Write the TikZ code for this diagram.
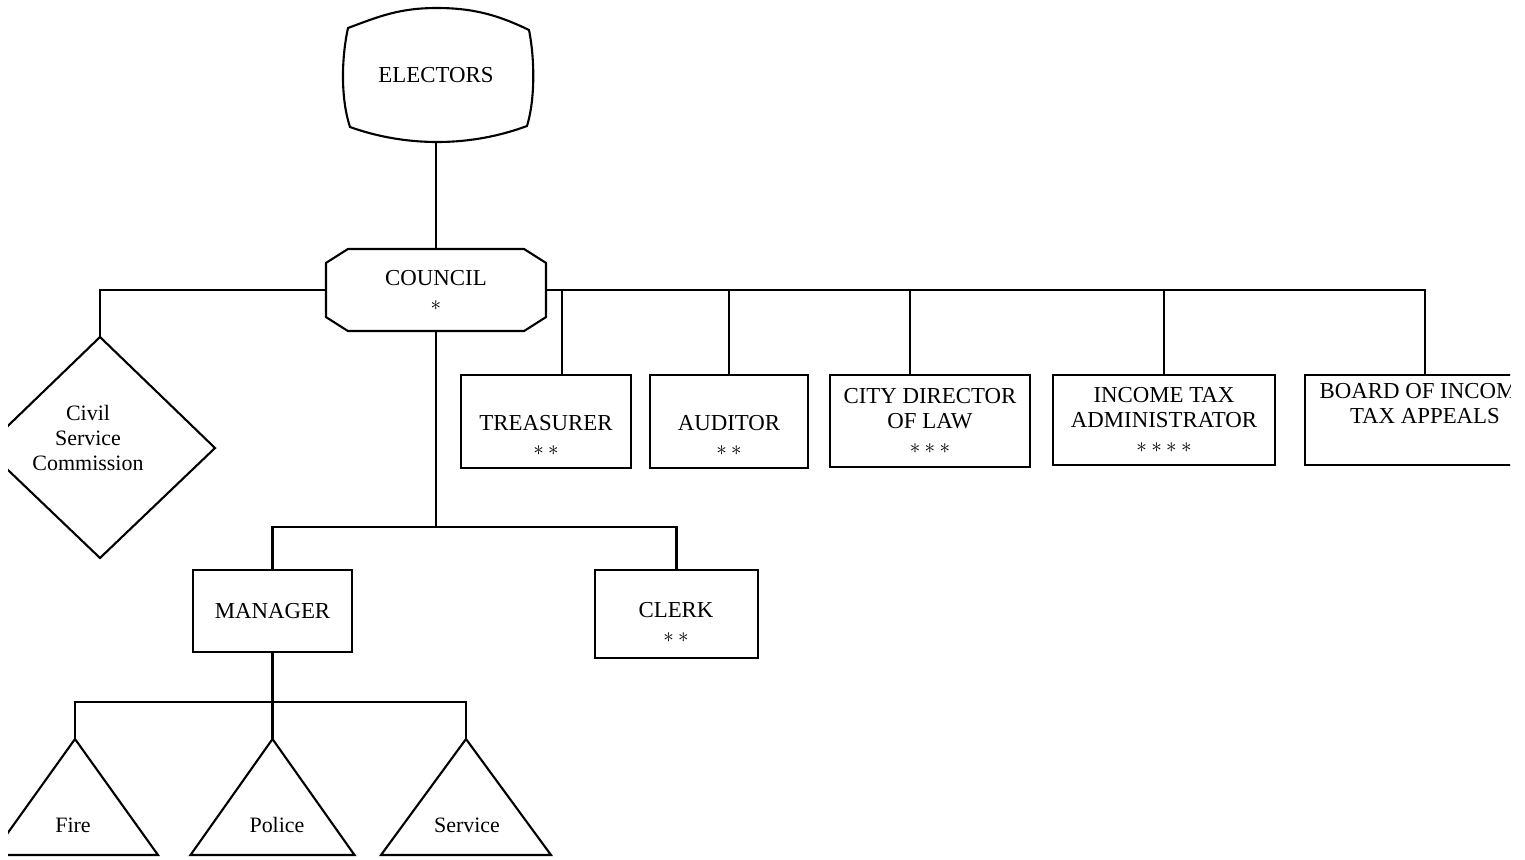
\documentclass[tikz,border=0pt]{standalone}
\usepackage{fontspec}
\setmainfont{Liberation Serif}
\usetikzlibrary{calc}
\newcommand{\sast}{$\ast$}
\newcommand{\astgap}{\hspace{2.5pt}}
\begin{document}
\begin{tikzpicture}[x=0.02cm, y=-0.02cm, line width=1.2pt,
  txt/.style={font=\fontsize{13}{14.3}\selectfont, align=center, inner sep=0pt},
  office/.style={draw, rectangle, txt, minimum height=1.86cm},
  small/.style={font=\fontsize{12.5}{14.5}\selectfont, align=center, inner sep=0pt}]
\useasboundingbox (0,0) rectangle (1525,859);
\begin{scope}
\clip (8,0) rectangle (1510,859);

% electors
\node[txt, minimum width=3.76cm, minimum height=2.68cm] (electors) at (436,75) {ELECTORS};
\draw (348,28) .. controls (380,16) and (400,8) .. (437,8)
      .. controls (475,8) and (500,16) .. (529,30)
      .. controls (535,60) and (535,100) .. (527,126)
      .. controls (500,136) and (470,142) .. (437,142)
      .. controls (405,142) and (375,136) .. (350,127)
      .. controls (341,100) and (341,60) .. (348,28) -- cycle;

% council (octagon)
\node[txt, minimum width=4.36cm, minimum height=1.6cm] (council) at (436,290) {COUNCIL\\\sast};
\draw ($(council.north west)+(22,0)$) -- ($(council.north east)+(-22,0)$)
   -- ($(council.north east)+(0,14)$) -- ($(council.south east)+(0,-14)$)
   -- ($(council.south east)+(-22,0)$) -- ($(council.south west)+(22,0)$)
   -- ($(council.south west)+(0,-14)$) -- ($(council.north west)+(0,14)$) -- cycle;
\draw (electors.south) -- (council.north);

% civil service commission (diamond)
\coordinate (cscTop) at (100,337);
\draw (cscTop) -- (215,448) -- (100,558) -- (-15,448) -- cycle;
\node[small] (csc) at (88,438) {Civil\\Service\\Commission};
\draw (council.west) -| (cscTop);

% offices on the right
\node[office, minimum width=3.4cm] (treasurer) at (546,421.5) {\strut\\TREASURER\\\sast\astgap\sast};
\node[office, minimum width=3.16cm] (auditor) at (729,421.5) {\strut\\AUDITOR\\\sast\astgap\sast};
\node[office, minimum width=4cm, minimum height=1.84cm] (law) at (930,421) {CITY DIRECTOR\\OF LAW\\\sast\astgap\sast\astgap\sast};
\node[office, minimum width=4.44cm, minimum height=1.8cm] (incometax) at (1164,420) {INCOME TAX\\ADMINISTRATOR\\\sast\astgap\sast\astgap\sast\astgap\sast};
\node[office, minimum width=4.8cm, minimum height=1.8cm] (board) at (1425,420) {BOARD OF INCOME\\TAX APPEALS\\\strut};

\draw (council.east) -- (council.east -| board.north) -- (board.north);
\coordinate (tdrop) at ($(treasurer.north)+(16,0)$);
\coordinate (ldrop) at ($(law.north)+(-20,0)$);
\draw (tdrop) -- (tdrop |- council.east);
\draw (auditor.north) -- (auditor.north |- council.east);
\draw (ldrop) -- (ldrop |- council.east);
\draw (incometax.north) -- (incometax.north |- council.east);

% manager and clerk
\node[office, minimum width=3.18cm, minimum height=1.64cm] (manager) at (272.5,611) {MANAGER};
\node[draw, minimum width=3.26cm, minimum height=1.76cm] (clerk) at (676.5,614) {};
\node[txt] (clerklabel) at (676,622) {CLERK\\\sast\astgap\sast};
\coordinate (split) at (436,527);
\draw (council.south) -- (split);
\draw (manager.north) |- (split) -| (clerk.north);

% departments (triangles)
\coordinate (msplit) at ($(manager.south)+(0,49)$);
\coordinate (fireTop) at (75,739);
\coordinate (policeTop) at (272.5,739);
\coordinate (serviceTop) at (466,739);
\draw (manager.south) -- (policeTop);
\draw (fireTop) |- (msplit) -| (serviceTop);
\draw (fireTop) -- ++(83,116) -- ++(-166,0) -- cycle;
\draw (policeTop) -- ++(82,116) -- ++(-164,0) -- cycle;
\draw (serviceTop) -- ++(85,116) -- ++(-170,0) -- cycle;
\node[small] (fire) at (73,825) {Fire};
\node[small] (police) at (277,825) {Police};
\node[small] (service) at (467,825) {Service};
\end{scope}
\end{tikzpicture}
\end{document}
